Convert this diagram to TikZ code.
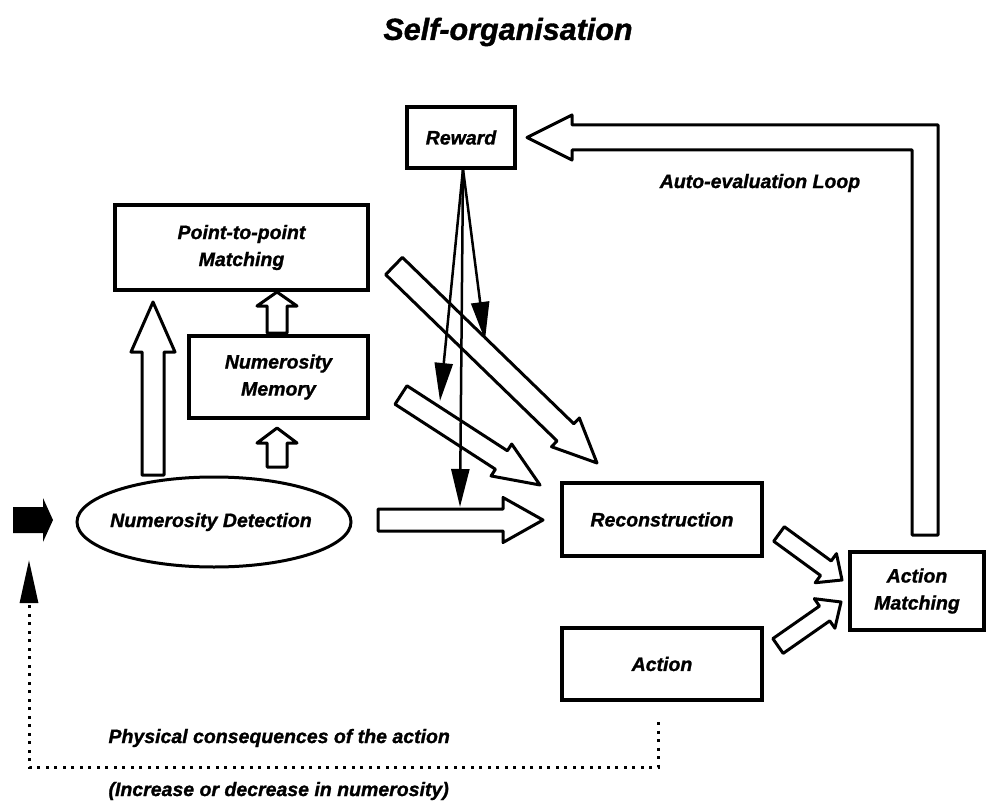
\documentclass[tikz,border=0pt]{standalone}
\usepackage{fontspec}
\setmainfont{Liberation Sans}[BoldItalicFeatures={FakeBold=1.2}]
\usetikzlibrary{arrows.meta,calc,shapes.geometric}
% #1 tail, #2 tip, #3 shaft half width, #4 head half width, #5 head length
\newcommand\blockarrow[5]{%
  \coordinate (ba-h) at ($(#2)!#5!(#1)$);
  \draw[hollow] ($(#1)!#3!90:(#2)$) -- ($(ba-h)!#3!90:(#2)$) -- ($(ba-h)!#4!90:(#2)$)
    -- (#2) -- ($(ba-h)!#4!-90:(#2)$) -- ($(ba-h)!#3!-90:(#2)$) -- ($(#1)!#3!-90:(#2)$) -- cycle;
}
\begin{document}
\begin{tikzpicture}[x=1pt,y=-1pt,
  lbl/.style={font=\fontsize{19.5}{27}\selectfont\bfseries\itshape, align=center},
  box/.style={draw, line width=3.5pt, lbl, inner sep=0pt},
  hollow/.style={draw, line width=3pt, line join=round},
  thinarrow/.style={line width=2.5pt, -{Triangle[length=38pt,width=18pt]}},
  feedback/.style={line width=3pt, dash pattern=on 3pt off 5.5pt, -{Triangle[length=43pt,width=18pt]}},
]
\useasboundingbox (0,0) rectangle (988,805);

\node[lbl, font=\fontsize{30.5}{36}\selectfont\bfseries\itshape] (title) at (508,32) {Self-organisation};

% boxes
\node[box, minimum width=108pt, minimum height=61pt] (rew) at (461,137.5) {Reward};
\node[box, minimum width=253pt, minimum height=85pt] (ptp) at (241.5,247.5) {Point-to-point\\Matching};
\node[box, minimum width=179pt, minimum height=82pt] (mem) at (278.5,377) {Numerosity\\Memory};
\node[box, ellipse, line width=3pt, minimum width=274pt, minimum height=90pt] (det) at (214,522) {};
\node[lbl] (detl) at (211,522) {Numerosity Detection};
\node[box, minimum width=200pt, minimum height=73pt] (rec) at (662,519.5) {Reconstruction};
\node[box, minimum width=200pt, minimum height=72pt] (act) at (662,664) {Action};
\node[box, minimum width=134pt, minimum height=78pt] (am) at (917,591) {Action\\Matching};

% block arrows
\coordinate (a1t) at (153,475); \coordinate (a1h) at (153,302);
\coordinate (a2t) at (277,467); \coordinate (a2h) at (277,428);
\coordinate (a3t) at (277,333); \coordinate (a3h) at (277,292);
\coordinate (a4t) at (378,520); \coordinate (a4h) at (543,520);
\coordinate (a5t) at (394,266); \coordinate (a5h) at (597,463);
\coordinate (a6t) at (401,395); \coordinate (a6h) at (540,485);
\coordinate (a7t) at (779,534); \coordinate (a7h) at (842,580);
\coordinate (a8t) at (778,646); \coordinate (a8h) at (841,602);
\blockarrow{a1t}{a1h}{11pt}{22pt}{50pt}
\blockarrow{a2t}{a2h}{10pt}{20pt}{15pt}
\blockarrow{a3t}{a3h}{10pt}{20pt}{14pt}
\blockarrow{a4t}{a4h}{11pt}{22.5pt}{40pt}
\blockarrow{a5t}{a5h}{12pt}{20pt}{44pt}
\blockarrow{a6t}{a6h}{11pt}{19pt}{46pt}
\blockarrow{a7t}{a7h}{9pt}{18pt}{20pt}
\blockarrow{a8t}{a8h}{9pt}{18pt}{20pt}

% auto-evaluation loop
\coordinate (loopt) at (527,137.5);
\draw[hollow] (938,535) -- (938,125) -- (572,125) -- (572,115) -- (loopt)
  -- (572,160) -- (572,150) -- (912,150) -- (912,535) -- cycle;
\node[lbl] (ael) at (760,183) {Auto-evaluation Loop};

% reward arrows
\coordinate (rs) at (463,169);
\coordinate (r1) at (460,507);
\coordinate (r2) at (440,401);
\coordinate (r3) at (485,340);
\draw[thinarrow] (rs) -- (r1);
\draw[thinarrow] (rs) -- (r2);
\draw[thinarrow] (rs) -- (r3);

% input arrow
\coordinate (inp) at (53,520);
\fill (13,507) -- (43,507) -- (43,498) -- (inp) -- (43,542) -- (43,533) -- (13,533) -- cycle;

% feedback
\coordinate (fb0) at (658,722);
\coordinate (fbc) at (29,767);
\coordinate (fb1) at (29,560);
\draw[feedback] (fb0) |- (fbc) -- (fb1);
\node[lbl, anchor=west] (pc) at (105,738) {Physical consequences of the action};
\node[lbl, anchor=west] (inc) at (105,791) {(Increase or decrease in numerosity)};
\end{tikzpicture}
\end{document}
